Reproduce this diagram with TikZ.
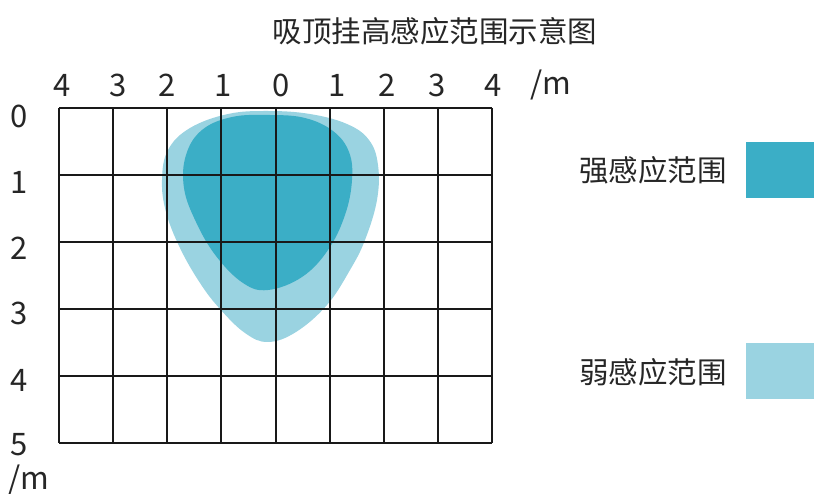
\documentclass[tikz,border=0pt]{standalone}
\usepackage{fontspec}
\setmainfont{Noto Sans CJK SC}
\definecolor{strongc}{HTML}{3BAEC6}
\definecolor{weakc}{HTML}{9AD3E1}
\begin{document}
\begin{tikzpicture}[x=1pt,y=-1pt,
  lbl/.style={inner sep=0pt,font=\fontsize{29.5}{30}\selectfont,text=black!85},
  num/.style={inner sep=0pt,font=\fontsize{31}{31}\selectfont,text=black!85},
  gridline/.style={line width=1.9pt,black!90},
  legbox/.style={draw=none,inner sep=0pt,minimum width=68pt,minimum height=56pt}]
\useasboundingbox (0,0) rectangle (814,494);
% regions
\fill[weakc] plot[smooth cycle,tension=0.65] coordinates {
 (268,111) (310,114) (347,124) (369,140) (378,165) (377,200) (365,240)
 (350,270) (327,305) (296,332) (268,342) (245,333) (220,309) (200,283)
 (180,248) (166,212) (162,180) (168,150) (190,128) (228,114)};
\fill[strongc] plot[smooth cycle,tension=0.65] coordinates {
 (270,115) (305,118) (333,131) (349,152) (352,180) (345,215) (328,250)
 (302,277) (268,290) (243,283) (216,256) (196,222) (184,188) (186,155)
 (202,130) (232,117)};
% grid
\foreach \gx in {59,113,167,221,276,330,384,438,492} \draw[gridline] (\gx,108) -- (\gx,443);
\foreach \gy in {108,175,242,309,376,443} \draw[gridline] (59,\gy) -- (492,\gy);
% title
\node[lbl] (title) at (435,31) {吸顶挂高感应范围示意图};
% top axis
\node[num] (t4l) at (62,85) {4};
\node[num] (t3l) at (118,85) {3};
\node[num] (t2l) at (167,85) {2};
\node[num] (t1l) at (223,85) {1};
\node[num] (t0) at (281,85) {0};
\node[num] (t1r) at (337,85) {1};
\node[num] (t2r) at (387,85) {2};
\node[num] (t3r) at (437,85) {3};
\node[num] (t4r) at (493,85) {4};
\node[num] (tm) at (551,85) {/m};
% left axis
\node[num] (l0) at (19,116) {0};
\node[num] (l1) at (19,182) {1};
\node[num] (l2) at (19,248) {2};
\node[num] (l3) at (19,313) {3};
\node[num] (l4) at (19,380) {4};
\node[num] (l5) at (19,445) {5};
\node[num] (lm) at (29,480) {/m};
% legend
\node[lbl] (strongtxt) at (653,170) {强感应范围};
\node[legbox,fill=strongc] (strongbox) at (780,170) {};
\node[lbl] (weaktxt) at (653,372) {弱感应范围};
\node[legbox,fill=weakc] (weakbox) at (780,371) {};
\end{tikzpicture}
\end{document}
